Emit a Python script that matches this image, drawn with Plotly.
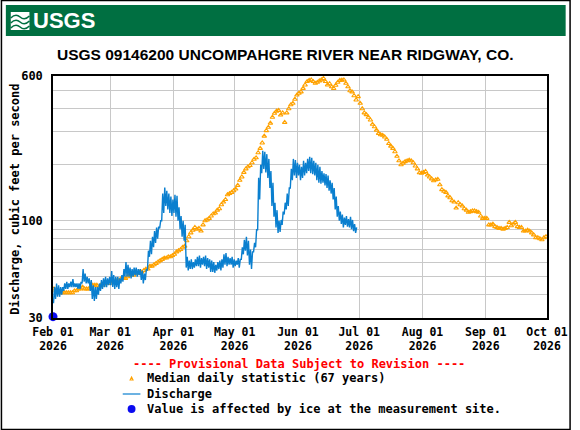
import plotly.graph_objects as go
import pandas as pd

# ---------------- data ----------------
title_text = "USGS 09146200 UNCOMPAHGRE RIVER NEAR RIDGWAY, CO."
y_title = "Discharge, cubic feet per second"
month_ticks = ["2026-02-01", "2026-03-01", "2026-04-01", "2026-05-01", "2026-06-01",
               "2026-07-01", "2026-08-01", "2026-09-01", "2026-10-01"]
month_labels = ["Feb 01", "Mar 01", "Apr 01", "May 01", "Jun 01",
                "Jul 01", "Aug 01", "Sep 01", "Oct 01"]
year_label = "2026"
y_grid_vals = [30, 40, 50, 60, 70, 80, 90, 100, 200, 300, 400, 500, 600]
y_labelled = [30, 100, 600]

# median daily statistic, one value per day from Feb 01 to Oct 01
median_vals = [
    43, 42, 42, 41, 41, 41, 41, 41, 41, 41, 42, 42, 43, 43, 44, 43, 43, 43, 44, 45,
    45, 45, 44, 45, 45, 46, 46, 46, 47, 47, 47, 48, 48, 49, 49, 49, 50, 51, 51, 51,
    52, 52, 53, 53, 54, 55, 55, 57, 57, 58, 59, 60, 61, 62, 63, 63, 64, 64, 65, 66,
    68, 69, 70, 72, 73, 78, 82, 86, 89, 92, 90, 91, 88, 95, 100, 101, 103, 106, 109, 110,
    114, 116, 122, 126, 130, 138, 140, 142, 145, 148, 155, 165, 172, 182, 190, 195, 198, 205, 214, 218,
    232, 245, 262, 285, 305, 318, 335, 360, 378, 388, 392, 370, 380, 338, 380, 400, 420, 428, 450, 474,
    485, 493, 515, 537, 560, 568, 571, 560, 548, 555, 565, 572, 582, 560, 537, 545, 525, 514, 535, 555,
    568, 570, 571, 548, 525, 500, 493, 470, 446, 465, 428, 400, 380, 372, 360, 348, 330, 320, 307, 295,
    290, 288, 282, 274, 260, 252, 245, 235, 222, 210, 200, 204, 208, 210, 212, 210, 205, 197, 190, 181,
    180, 182, 184, 176, 172, 168, 164, 166, 167, 156, 147, 144, 142, 136, 133, 128, 126, 117, 125, 122,
    120, 116, 114, 111, 112, 113, 113, 112, 111, 106, 103, 103, 103, 95, 95, 96, 93, 92, 91, 91,
    90, 91, 92, 98, 94, 96, 98, 93, 92, 92, 88, 88, 89, 88, 86, 84, 81, 81, 80, 79,
    81, 82, 82,
]

# discharge: daily low / high (diurnal swing), Feb 01 .. Jun 28
discharge_low = [
    36, 38, 39, 39, 40, 42, 43, 43, 44, 44, 44, 44, 43, 43, 46, 47, 46, 46, 42, 38,
    37, 38, 40, 42, 43, 44, 44, 45, 45, 44, 43, 44, 43, 46, 47, 50, 50, 50, 49, 50,
    51, 50, 51, 48, 46, 48, 54, 64, 66, 72, 76, 80, 91, 100, 110, 120, 115, 110, 106, 110,
    105, 100, 90, 82, 78, 56, 54, 55, 55, 56, 57, 57, 56, 58, 57, 55, 56, 53, 53, 52.5,
    54, 55, 54, 56, 58, 57, 58, 58, 56, 57, 58, 56, 62, 66, 69, 65, 58, 55, 68, 72,
    89, 130, 180, 190, 182, 170, 150, 120, 105, 92, 86, 87, 95, 108, 115, 120, 150, 165, 175, 170,
    175, 165, 170, 175, 180, 185, 180, 178, 175, 165, 160, 158, 160, 155, 150, 145, 140, 130, 115, 105,
    100, 96, 92, 95, 93, 92, 90, 88, 86,
]
discharge_high = [
    44, 46, 45, 44, 44, 46, 47, 46, 47, 48.5, 46, 46, 46, 47, 55, 52, 50, 49, 48, 45,
    44, 44, 46, 48, 49, 50, 49, 50, 53.7, 51, 50, 50, 49, 51, 55, 60, 58, 56, 55, 56,
    56, 55, 55, 54, 52, 55, 69, 78, 82, 88, 92, 93, 100, 140, 151, 145, 140, 135, 130, 138,
    136, 118, 106, 100, 95, 64, 61, 62, 60, 62, 64, 65, 63, 64, 65, 63, 62, 61, 60, 58,
    60, 61, 62, 66, 67, 64, 63, 64, 62, 61, 63, 62, 72, 79, 82, 78, 70, 68, 76, 90,
    170, 200, 238, 235, 228, 215, 185, 160, 125, 114, 100, 101, 112, 125, 140, 150, 190, 215, 212, 205,
    200, 195, 210, 205, 215, 221, 218, 210, 205, 200, 195, 185, 180, 178, 175, 165, 160, 150, 135, 120,
    112, 108, 104, 106, 102, 105, 101, 96, 92,
]
ice_date = "2026-02-01 00:00"
ice_value = 30.5

legend_red = "---- Provisional Data Subject to Revision ----"
legend_items = ["Median daily statistic (67 years)", "Discharge",
                "Value is affected by ice at the measurement site."]

# ---------------- build series ----------------
start = pd.Timestamp("2026-02-01")
median_x = [start + pd.Timedelta(days=i, hours=12) for i in range(len(median_vals))]
dis_x, dis_y = [], []
for i, (lo, hi) in enumerate(zip(discharge_low, discharge_high)):
    dis_x.append(start + pd.Timedelta(days=i, hours=6))
    dis_y.append(lo)
    dis_x.append(start + pd.Timedelta(days=i, hours=18))
    dis_y.append(hi)

# ---------------- geometry helpers ----------------
W, H = 580, 430
L, R, T, B = 53, 556, 76, 318


def px(x):
    return (x - L) / (R - L)


def py(y):
    return (B - y) / (B - T)


MONO = "DejaVu Sans Mono"
SANS = "Liberation Sans, Arial, sans-serif"
ORANGE = "#FFA200"
BLUE = "#0A7FCF"
x_range = ["2026-02-01", "2026-10-01"]

fig = go.Figure()
fig.add_trace(go.Scatter(x=median_x, y=median_vals, mode="markers",
                         marker=dict(symbol="triangle-up-open", size=4, color=ORANGE,
                                     line=dict(width=1.1, color=ORANGE)),
                         showlegend=False, hoverinfo="skip"))
fig.add_trace(go.Scatter(x=dis_x, y=dis_y, mode="lines",
                         line=dict(color=BLUE, width=1.4),
                         showlegend=False, hoverinfo="skip"))
fig.add_trace(go.Scatter(x=[ice_date], y=[ice_value], mode="markers",
                         marker=dict(symbol="circle", size=9, color="#0A0AF0"),
                         cliponaxis=False, showlegend=False, hoverinfo="skip"))
# invisible trace to carry the year-label axis
fig.add_trace(go.Scatter(x=[month_ticks[0]], y=[ice_value], xaxis="x2", mode="markers",
                         marker=dict(opacity=0), showlegend=False, hoverinfo="skip"))

ytext = [str(v) if v in y_labelled else "" for v in y_grid_vals]
tick_font = dict(family=MONO, size=12, color="black", weight="bold")
xtick_font = dict(family=MONO, size=11.5, color="black", weight="bold")

fig.update_layout(
    width=W, height=H,
    margin=dict(l=L, r=W - R, t=T, b=H - B, pad=0),
    paper_bgcolor="white", plot_bgcolor="white",
    showlegend=False,
    xaxis=dict(type="date", range=x_range,
               tickvals=month_ticks, ticktext=month_labels, ticks="",
               showgrid=True, gridcolor="#C8C8C8", gridwidth=1,
               showline=True, linecolor="black", linewidth=1.5, mirror=True,
               tickfont=xtick_font, ticklabelstandoff=2, zeroline=False),
    xaxis2=dict(type="date", range=x_range, overlaying="x", anchor="y", side="bottom",
                tickvals=month_ticks, ticktext=[year_label] * len(month_ticks), ticks="",
                showgrid=False, showline=False, zeroline=False,
                tickfont=xtick_font, ticklabelstandoff=19),
    yaxis=dict(type="log", range=[1.4771213, 2.7781513],
               tickvals=y_grid_vals, ticktext=ytext, ticks="",
               showgrid=True, gridcolor="#C8C8C8", gridwidth=1,
               showline=True, linecolor="black", linewidth=1.5, mirror=True,
               tickfont=tick_font, ticklabelstandoff=6, zeroline=False),
)

shapes = []
# outer frame
shapes.append(dict(type="rect", xref="paper", yref="paper",
                   x0=px(0.5), x1=px(W - 0.5), y0=py(0.5), y1=py(H - 0.5),
                   line=dict(color="black", width=1.5), layer="below"))
# green header band
shapes.append(dict(type="rect", xref="paper", yref="paper",
                   x0=px(5), x1=px(575), y0=py(5), y1=py(36),
                   fillcolor="#006F41", line=dict(width=0), layer="below"))
# logo icon: white block with green waves
shapes.append(dict(type="rect", xref="paper", yref="paper",
                   x0=px(10), x1=px(29), y0=py(12), y1=py(30),
                   fillcolor="white", line=dict(width=0)))
for yy in [16, 21, 26]:
    shapes.append(dict(type="path", xref="paper", yref="paper",
                       path=f"M {px(10)},{py(yy+2)} Q {px(15)},{py(yy-3)} {px(19.5)},{py(yy+1)} T {px(29)},{py(yy)}",
                       line=dict(color="#006F41", width=1.6)))
# legend symbols
shapes.append(dict(type="line", xref="paper", yref="paper",
                   x0=px(124), x1=px(142), y0=py(394), y1=py(394),
                   line=dict(color=BLUE, width=1.2)))
shapes.append(dict(type="path", xref="paper", yref="paper",
                   path=f"M {px(131.5)},{py(380)} L {px(133)},{py(377)} L {px(134.5)},{py(380)} Z",
                   line=dict(color=ORANGE, width=1.1)))
shapes.append(dict(type="circle", xref="paper", yref="paper",
                   x0=px(129), x1=px(137), y0=py(405), y1=py(413),
                   fillcolor="#0A0AF0", line=dict(width=0)))
fig.update_layout(shapes=shapes)

ann = []
ann.append(dict(text="<b>USGS</b>", x=px(31), y=py(21), xref="paper", yref="paper",
                xanchor="left", yanchor="middle", showarrow=False,
                font=dict(family=SANS, size=22, color="white")))
ann.append(dict(text=f"<b>{title_text}</b>", x=px(290), y=py(55), xref="paper", yref="paper",
                xanchor="center", yanchor="middle", showarrow=False,
                font=dict(family=SANS, size=15.5, color="black")))
ann.append(dict(text=y_title, x=px(14), y=py(199), xref="paper", yref="paper",
                xanchor="center", yanchor="middle", textangle=-90, showarrow=False,
                font=dict(family=MONO, size=12, color="black", weight="bold")))
ann.append(dict(text=legend_red, x=px(303), y=py(364), xref="paper", yref="paper",
                xanchor="center", yanchor="middle", showarrow=False,
                font=dict(family=MONO, size=12, color="#FF0000", weight="bold")))
for txt, yy in zip(legend_items, [378, 394, 409]):
    ann.append(dict(text=txt, x=px(147), y=py(yy), xref="paper", yref="paper",
                    xanchor="left", yanchor="middle", showarrow=False,
                    font=dict(family=MONO, size=12, color="black", weight="bold")))
fig.update_layout(annotations=ann)

fig.write_html("out.html")
